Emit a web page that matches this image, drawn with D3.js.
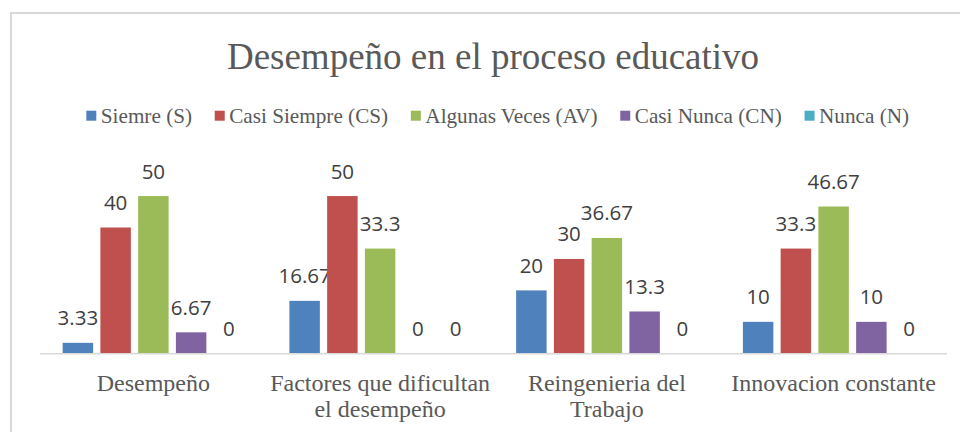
<!DOCTYPE html>
<html>
<head>
<meta charset="utf-8">
<script src="https://cdn.jsdelivr.net/npm/d3@7"></script>
<style>
  body { margin: 0; background: #fff; }
  svg { display: block; }
</style>
</head>
<body>
<svg width="960" height="432"></svg>
<script>
var categories = ['Desempeño', 'Factores que dificultan el desempeño', 'Reingenieria del Trabajo', 'Innovacion constante']
var categoryLines = [['Desempeño'], ['Factores que dificultan', 'el desempeño'], ['Reingenieria del', 'Trabajo'], ['Innovacion constante']]
var seriesNames = ['Siemre (S)', 'Casi Siempre (CS)', 'Algunas Veces (AV)', 'Casi Nunca (CN)', 'Nunca (N)']
var seriesColors = ['#4F81BD', '#C0504D', '#9BBB59', '#8064A2', '#4BACC6']
var siempre = [3.33, 16.67, 20, 10]
var casiSiempre = [40, 50, 30, 33.3]
var algunasVeces = [50, 33.3, 36.67, 46.67]
var casiNunca = [6.67, 0, 13.3, 10]
var nunca = [0, 0, 0, 0]
var seriesValues = [siempre, casiSiempre, algunasVeces, casiNunca, nunca]

var serif = '"Liberation Serif", "Times New Roman", serif'
var svg = d3.select('svg')

// chart border
svg.append('rect')
    .attr('x', 11).attr('y', 13)
    .attr('width', 960).attr('height', 440)
    .style('fill', '#fff')
    .style('stroke', '#d9d9d9')
    .style('stroke-width', 2)

svg.append('text')
    .attr('x', 493).attr('y', 68.5)
    .attr('text-anchor', 'middle')
    .style('font-family', serif)
    .style('font-size', '37px')
    .style('fill', '#595959')
    .text('Desempeño en el proceso educativo')

// legend
var legend = svg.append('g')
var lx = 0
seriesNames.forEach(function(name, i){
    var item = legend.append('g').attr('transform', 'translate(' + lx + ',0)')
    item.append('rect')
        .attr('x', 0).attr('y', 110.7)
        .attr('width', 10).attr('height', 10)
        .style('fill', seriesColors[i])
    var t = item.append('text')
        .attr('x', 14.5).attr('y', 122.7)
        .style('font-family', serif)
        .style('font-size', '21.2px')
        .style('fill', '#595959')
        .text(name)
    lx += 14.5 + t.node().getComputedTextLength() + 22.7
})
var legendWidth = lx - 22.7
legend.attr('transform', 'translate(' + (497.7 - legendWidth / 2) + ',0)')

var mapx = d3.scaleBand()
    .domain(categories)
    .range([40, 947])

var mapx1 = d3.scaleBand()
    .domain(seriesNames)
    .range([0, mapx.bandwidth()])
    .paddingInner(0.193)
    .paddingOuter(0.6)

var mapy = d3.scaleLinear()
    .domain([0, 60])
    .range([353.3, 164.6])

var groups = svg.selectAll('.grp')
    .data(categories)
    .enter()
    .append('g')
    .attr('transform', function(d){ return 'translate(' + mapx(d) + ',0)' })

groups.each(function(cat, ci){
    var g = d3.select(this)
    seriesNames.forEach(function(name, si){
        var v = seriesValues[si][ci]
        g.append('rect')
            .attr('x', mapx1(name))
            .attr('y', mapy(v))
            .attr('width', mapx1.bandwidth())
            .attr('height', mapy(0) - mapy(v))
            .style('fill', seriesColors[si])
        g.append('text')
            .attr('x', mapx1(name) + mapx1.bandwidth() / 2)
            .attr('y', mapy(v) - 17.5)
            .attr('text-anchor', 'middle')
            .style('font-family', '"Open Sans", sans-serif')
            .style('font-size', '20.5px')
            .style('fill', '#404040')
            .text(v)
    })
})

// baseline
svg.append('line')
    .attr('x1', 40).attr('x2', 947)
    .attr('y1', mapy(0) + 0.5).attr('y2', mapy(0) + 0.5)
    .style('stroke', '#d9d9d9')
    .style('stroke-width', 1.5)

// category labels
categories.forEach(function(cat, ci){
    var t = svg.append('text')
        .attr('text-anchor', 'middle')
        .style('font-family', serif)
        .style('font-size', '24px')
        .style('fill', '#595959')
    categoryLines[ci].forEach(function(line, li){
        t.append('tspan')
            .attr('x', mapx(cat) + mapx.bandwidth() / 2)
            .attr('y', 390.5 + li * 26.5)
            .text(line)
    })
})
</script>
</body>
</html>
